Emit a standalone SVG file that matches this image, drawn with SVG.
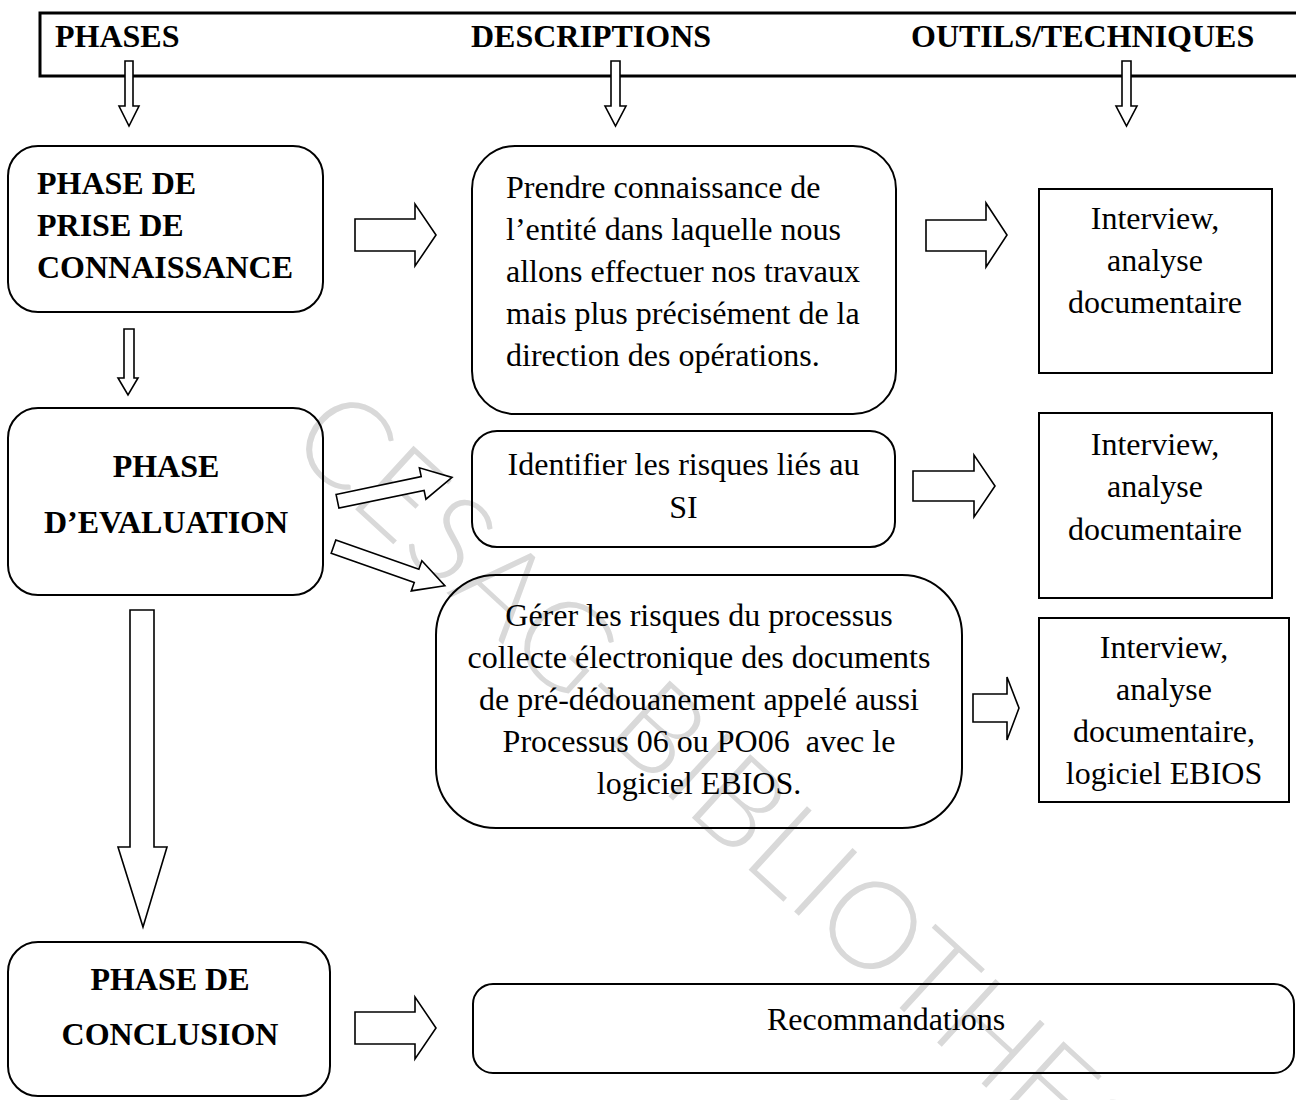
<svg xmlns="http://www.w3.org/2000/svg" width="1296" height="1100" viewBox="0 0 1296 1100">
<style>
text{font-family:"Liberation Serif","Times New Roman",serif;fill:#000}
.b{font-weight:bold;font-size:32px}
.r{font-size:32px}
.c{text-anchor:middle}
.box{fill:none;stroke:#000;stroke-width:2}
.arr{fill:#fff;stroke:#000;stroke-width:1.6;stroke-linejoin:miter}
.wm{font-family:Lato,"Open Sans","Liberation Sans",sans-serif;font-weight:300;font-size:122px;fill:#d9d9d9}
</style>
<rect width="1296" height="1100" fill="#fff"/>
<text class="wm" transform="translate(285,445) rotate(42.5)">CESAG-BIBLIOTHEQUE</text>

<g id="header">
<rect x="40" y="13" width="1300" height="63" fill="none" stroke="#000" stroke-width="3"/>
<text class="b" x="55" y="47">PHASES</text>
<text class="b" x="471" y="47">DESCRIPTIONS</text>
<text class="b" x="911" y="47">OUTILS/TECHNIQUES</text>
</g>

<g id="phase1">
<rect class="box" x="8" y="146" width="315" height="166" rx="30"/>
<text class="b" x="37" y="194">PHASE DE</text>
<text class="b" x="37" y="236">PRISE DE</text>
<text class="b" x="37" y="278">CONNAISSANCE</text>
</g>
<g id="phase2">
<rect class="box" x="8" y="408" width="315" height="187" rx="30"/>
<text class="b c" x="166" y="477">PHASE</text>
<text class="b c" x="166" y="533">D’EVALUATION</text>
</g>
<g id="phase3">
<rect class="box" x="8" y="942" width="322" height="154" rx="30"/>
<text class="b c" x="170" y="990">PHASE DE</text>
<text class="b c" x="170" y="1045">CONCLUSION</text>
</g>

<g id="desc1">
<rect class="box" x="472" y="146" width="424" height="268" rx="43"/>
<text class="r" x="506" y="198">Prendre connaissance de</text>
<text class="r" x="506" y="240">l’entité dans laquelle nous</text>
<text class="r" x="506" y="282">allons effectuer nos travaux</text>
<text class="r" x="506" y="324">mais plus précisément de la</text>
<text class="r" x="506" y="366">direction des opérations.</text>
</g>
<g id="desc2">
<rect class="box" x="472" y="431" width="423" height="116" rx="25"/>
<text class="r c" x="683.5" y="475">Identifier les risques liés au</text>
<text class="r c" x="683.5" y="518">SI</text>
</g>
<g id="desc3">
<rect class="box" x="436" y="575" width="526" height="253" rx="60"/>
<text class="r c" x="699" y="626">Gérer les risques du processus</text>
<text class="r c" x="699" y="668">collecte électronique des documents</text>
<text class="r c" x="699" y="710">de pré-dédouanement appelé aussi</text>
<text class="r c" x="699" y="752" xml:space="preserve">Processus 06 ou PO06  avec le</text>
<text class="r c" x="699" y="794">logiciel EBIOS.</text>
</g>
<g id="desc4">
<rect class="box" x="473" y="984" width="821" height="89" rx="20"/>
<text class="r c" x="886" y="1030">Recommandations</text>
</g>

<g id="tools1">
<rect class="box" x="1039" y="189" width="233" height="184"/>
<text class="r c" x="1155" y="229">Interview,</text>
<text class="r c" x="1155" y="271">analyse</text>
<text class="r c" x="1155" y="313">documentaire</text>
</g>
<g id="tools2">
<rect class="box" x="1039" y="413" width="233" height="185"/>
<text class="r c" x="1155" y="455">Interview,</text>
<text class="r c" x="1155" y="497">analyse</text>
<text class="r c" x="1155" y="540">documentaire</text>
</g>
<g id="tools3">
<rect class="box" x="1039" y="618" width="250" height="184"/>
<text class="r c" x="1164" y="658">Interview,</text>
<text class="r c" x="1164" y="700">analyse</text>
<text class="r c" x="1164" y="742">documentaire,</text>
<text class="r c" x="1164" y="784">logiciel EBIOS</text>
</g>

<g id="connectors">
<polygon class="arr" points="125,61 133,61 133,106 139,106 129,126 119,106 125,106"/>
<polygon class="arr" points="611,61 620,61 620,106 626,106 615.5,126 605,106 611,106"/>
<polygon class="arr" points="1122,61 1131,61 1131,106 1137,106 1126.5,126 1116,106 1122,106"/>
<polygon class="arr" points="124,329 134,329 134,378 138,378 128,395 118,378 124,378"/>
<polygon class="arr" points="130,610 154,610 154,847 167,847 143,927 118,847 130,847"/>
<polygon class="arr" points="355,219 415,219 415,204 436,235 415,266 415,251 355,251"/>
<polygon class="arr" points="926,220 986,220 986,203 1007,235 986,267 986,251 926,251"/>
<polygon class="arr" points="913,471 974,471 974,455 995,486 974,517 974,501 913,501"/>
<polygon class="arr" points="973,694 1007,694 1007,677 1019,708 1007,740 1007,722 973,722"/>
<polygon class="arr" points="355,1012 415,1012 415,997 436,1028 415,1059 415,1044 355,1044"/>
<polygon class="arr" transform="translate(337.5,501.3) rotate(-11.8)" points="0,-7 87,-7 87,-16 117,0 87,16 87,7 0,7"/>
<polygon class="arr" transform="translate(333.5,546.7) rotate(19.3)" points="0,-7 88,-7 88,-16 118,0 88,16 88,7 0,7"/>
</g>
</svg>
